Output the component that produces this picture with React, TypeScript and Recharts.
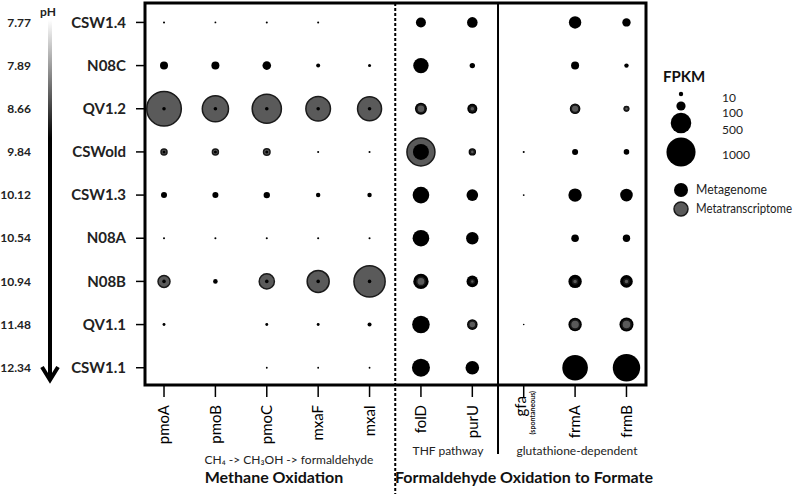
import React from 'react';
import { ScatterChart, Scatter, XAxis, YAxis, ZAxis, ReferenceLine, ReferenceArea } from 'recharts';

const samples = ['CSW1.4', 'N08C', 'QV1.2', 'CSWold', 'CSW1.3', 'N08A', 'N08B', 'QV1.1', 'CSW1.1'];
const phValues = ['7.77', '7.89', '8.66', '9.84', '10.12', '10.54', '10.94', '11.48', '12.34'];
const genes = ['pmoA', 'pmoB', 'pmoC', 'mxaF', 'mxaI', 'folD', 'purU', 'gfa', 'frmA', 'frmB'];

// FPKM, rows = samples, columns = genes
const metagenome = [
  [5, 4, 5, 5, 0, 118, 133, 0, 182, 83],
  [76, 76, 87, 19, 11, 280, 34, 0, 76, 23],
  [15, 15, 15, 15, 15, 170, 118, 0, 133, 43],
  [11, 11, 11, 5, 5, 303, 65, 5, 43, 37],
  [43, 43, 48, 23, 23, 326, 159, 4, 212, 188],
  [5, 5, 5, 5, 5, 326, 182, 0, 68, 65],
  [15, 25, 15, 15, 15, 280, 159, 0, 212, 188],
  [10, 0, 10, 10, 19, 366, 133, 3, 212, 232],
  [0, 0, 4, 4, 4, 383, 219, 0, 775, 888],
];
const metatranscriptome = [
  [0, 0, 0, 0, 0, 0, 0, 0, 0, 0],
  [0, 0, 0, 0, 0, 0, 0, 0, 0, 0],
  [1415, 812, 1008, 715, 681, 76, 30, 0, 68, 19],
  [43, 43, 50, 0, 0, 927, 20, 0, 0, 0],
  [0, 0, 0, 0, 0, 0, 0, 0, 0, 0],
  [0, 0, 0, 0, 0, 0, 0, 0, 0, 0],
  [170, 0, 273, 572, 1150, 83, 19, 0, 30, 30],
  [0, 0, 0, 0, 0, 0, 58, 0, 96, 96],
  [0, 0, 0, 0, 0, 0, 0, 0, 0, 0],
];
const legendSizes = [10, 100, 500, 1000];
const legendSeries = ['Metagenome', 'Metatranscriptome'];

const FONT = 'Lato, "Open Sans", sans-serif';
const Z_DOMAIN: [number, number] = [0, 1600];
const Z_RANGE: [number, number] = [0, 1064];
const GREY = '#5a5a5a';

type Pt = { x: number; y: number; z: number; kind: 'mg' | 'mt' };
const points: Pt[] = [];
samples.forEach((_, yi) =>
  genes.forEach((__, xi) => {
    const a = metagenome[yi][xi];
    const b = metatranscriptome[yi][xi];
    if (a > 0) points.push({ x: xi, y: yi, z: a, kind: 'mg' });
    if (b > 0) points.push({ x: xi, y: yi, z: b, kind: 'mt' });
  })
);
points.sort((p, q) => q.z - p.z);

const areaToR = (v: number) => Math.sqrt(((v / Z_DOMAIN[1]) * Z_RANGE[1]) / Math.PI);

const Bubble = (props: any) => {
  const { cx, cy, payload } = props;
  const r = props.width != null ? props.width / 2 : Math.sqrt((props.size || 0) / Math.PI);
  if (cx == null || cy == null) return null;
  if (payload.kind === 'mt') {
    return <circle cx={cx} cy={cy} r={r} fill={GREY} stroke="#1a1a1a" strokeWidth={1.5} />;
  }
  return <circle cx={cx} cy={cy} r={r} fill="#000" />;
};

const XTick = (props: any) => {
  const { x, y, payload } = props;
  const name = genes[Math.round(payload.value)];
  if (name === 'gfa') {
    const gx = x - 3;
    const gy = y - 9;
    const sx = x + 9;
    const sy = y - 14;
    return (
      <g>
        <text x={gx} y={gy} dy="0.35em" textAnchor="end" transform={`rotate(-90 ${gx} ${gy})`} fontSize={15} fontFamily={FONT} fill="#000">
          gfa
        </text>
        <text x={sx} y={sy} dy="0.35em" textAnchor="end" transform={`rotate(-90 ${sx} ${sy})`} fontSize={7} fontWeight={700} fontFamily={FONT} fill="#111">
          (spontaneous)
        </text>
      </g>
    );
  }
  return (
    <text x={x} y={y} dy="0.35em" textAnchor="end" transform={`rotate(-90 ${x} ${y})`} fontSize={15} fontFamily={FONT} fill="#000">
      {name}
    </text>
  );
};

const YTick = (props: any) => {
  const { x, y, payload } = props;
  const i = Math.round(payload.value);
  return (
    <g>
      <text x={x} y={y} dy="0.35em" textAnchor="end" fontSize={15} fontWeight={700} fontFamily={FONT} fill="#222">
        {samples[i]}
      </text>
      <text x={31} y={y} dy="0.35em" textAnchor="end" fontSize={12} fontWeight={700} fontFamily={FONT} fill="#222">
        {phValues[i]}
      </text>
    </g>
  );
};

const legendY = [94, 106, 123, 152];
const legendTextY = [98, 113, 130, 155];

export default function App() {
  return (
    <div style={{ position: 'absolute', left: 0, top: 0, width: 800, height: 494, background: '#fff' }}>
      <ScatterChart width={800} height={494} margin={{ top: 3, right: 154, bottom: 0, left: 0 }}>
        <XAxis
          type="number"
          dataKey="x"
          domain={[-0.37, 9.38]}
          ticks={genes.map((_, i) => i)}
          interval={0}
          height={109}
          axisLine={false}
          tickSize={12}
          tickMargin={8}
          tickLine={{ stroke: '#000', strokeWidth: 1.5 }}
          tick={<XTick />}
        />
        <YAxis
          type="number"
          dataKey="y"
          domain={[-0.45, 8.4]}
          reversed
          ticks={samples.map((_, i) => i)}
          interval={0}
          width={145}
          axisLine={false}
          tickSize={9}
          tickMargin={10}
          tickLine={{ stroke: '#000', strokeWidth: 1.5 }}
          tick={<YTick />}
        />
        <ZAxis type="number" dataKey="z" domain={Z_DOMAIN} range={Z_RANGE} />
        <Scatter data={points} isAnimationActive={false} shape={<Bubble />} />
        <ReferenceLine
          segment={[{ x: 4.5, y: -0.45 }, { x: 4.5, y: 10.93 }]}
          stroke="#000"
          strokeWidth={2}
          strokeDasharray="3 2"
          ifOverflow="visible"
        />
        <ReferenceLine
          segment={[{ x: 6.5, y: -0.45 }, { x: 6.5, y: 10.0 }]}
          stroke="#000"
          strokeWidth={2}
          ifOverflow="visible"
        />
        <ReferenceArea x1={-0.37} x2={9.38} y1={-0.45} y2={8.4} fill="none" fillOpacity={0} stroke="#000" strokeWidth={3} ifOverflow="visible" />
      </ScatterChart>
      <svg width={800} height={494} style={{ position: 'absolute', left: 0, top: 0, pointerEvents: 'none' }}>
        <defs>
          <linearGradient id="phGrad" x1="0" y1="0" x2="0" y2="1">
            <stop offset="0" stopColor="#ffffff" />
            <stop offset="0.33" stopColor="#000000" />
            <stop offset="1" stopColor="#000000" />
          </linearGradient>
        </defs>
        <text x={48} y={16} textAnchor="middle" fontSize={12} fontWeight={700} fontFamily={FONT} fill="#222">pH</text>
        <rect x={48} y={20} width={4} height={358} fill="url(#phGrad)" />
        <polyline points="42,367 50,380 58,367" fill="none" stroke="#000" strokeWidth={4} strokeLinejoin="miter" />

        <text x={289} y={464} textAnchor="middle" fontSize={12} fontFamily={FONT} fill="#222">CH₄ -&gt; CH₃OH  -&gt; formaldehyde</text>
        <text x={274} y={483} textAnchor="middle" fontSize={16} fontWeight={700} fontFamily={FONT} fill="#111">Methane Oxidation</text>
        <text x={448} y={455} textAnchor="middle" fontSize={12} fontFamily={FONT} fill="#222">THF pathway</text>
        <text x={577} y={455} textAnchor="middle" fontSize={12} fontFamily={FONT} fill="#222">glutathione-dependent</text>
        <text x={524} y={483} textAnchor="middle" fontSize={16} fontWeight={700} fontFamily={FONT} fill="#111">Formaldehyde Oxidation to Formate</text>

        <text x={663} y={82} fontSize={15} fontWeight={700} fontFamily={FONT} fill="#111">FPKM</text>
        {legendSizes.map((v, i) => (
          <g key={v}>
            <circle cx={681} cy={legendY[i]} r={Math.max(areaToR(v), 2.2)} fill="#000" />
            <text x={722} y={legendTextY[i]} dy="0.35em" fontSize={12} fontFamily={FONT} fill="#222">{v}</text>
          </g>
        ))}
        {legendSeries.map((s, i) => (
          <g key={s}>
            <circle cx={681} cy={190 + i * 19} r={7} fill={i === 0 ? '#000' : GREY} stroke={i === 0 ? 'none' : '#1a1a1a'} strokeWidth={1.5} />
            <text x={696} y={190 + i * 19} dy="0.35em" fontSize={12.5} fontFamily={FONT} fill="#222" textLength={i === 0 ? 71 : 96} lengthAdjust="spacingAndGlyphs">{s}</text>
          </g>
        ))}
      </svg>
    </div>
  );
}
